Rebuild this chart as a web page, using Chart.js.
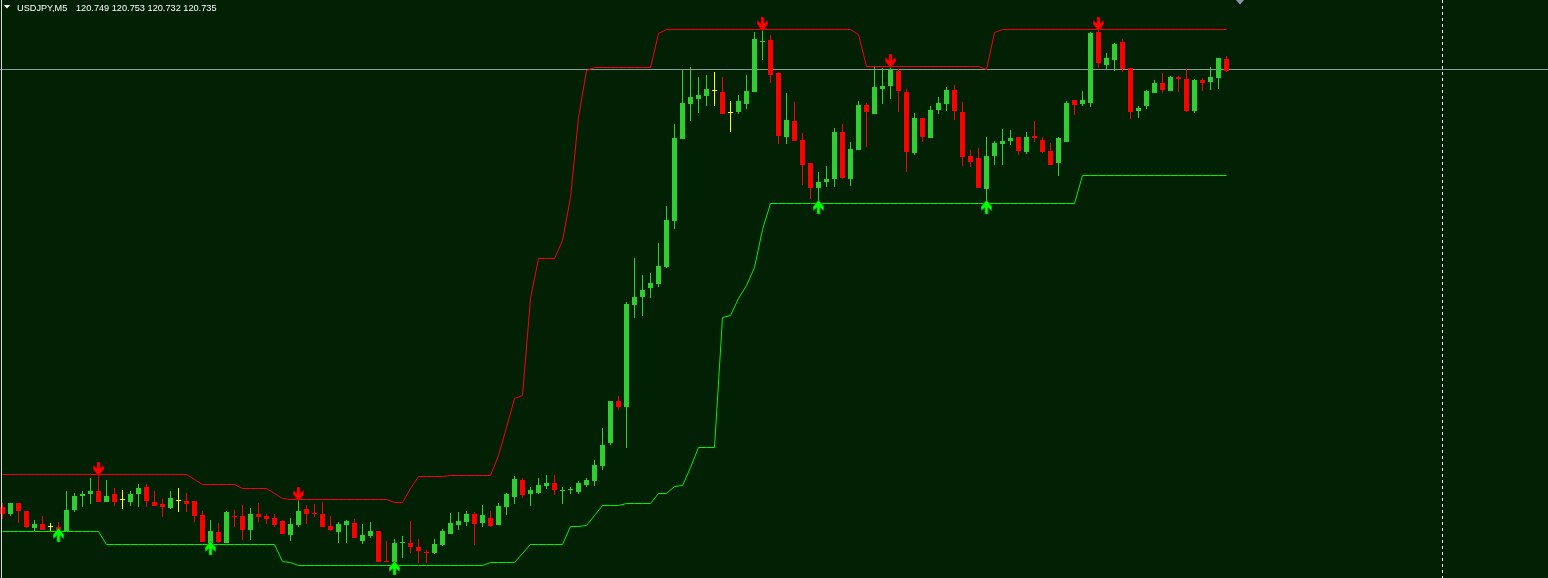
<!DOCTYPE html>
<html>
<head>
<meta charset="utf-8">
<title>USDJPY,M5</title>
<script src="https://cdn.jsdelivr.net/npm/chart.js@4.4.1/dist/chart.umd.min.js"></script>
<style>
html, body { margin: 0; padding: 0; background: #022004; overflow: hidden; }
#wrap { position: relative; width: 1548px; height: 578px; }
</style>
</head>
<body>
<div id="wrap"><canvas id="chart"></canvas></div>
<script>
// USDJPY M5 - candles with channel bands and signal arrows

const symbolTitle = 'USDJPY,M5';
const headerQuote = ['120.749', '120.753', '120.732', '120.735'];
const bidPrice = 120.735;
const shiftIndex = 180;

// OHLC per bar (bar 0 = oldest)
const opens = [
    120.297,120.290,120.301,120.293,120.276,120.280,120.277,120.277,120.273,120.294,
    120.308,120.310,120.313,120.302,120.310,120.304,120.302,120.310,120.317,120.302,
    120.300,120.296,120.303,120.303,120.303,120.289,120.261,120.272,120.261,120.288,
    120.288,120.274,120.290,120.288,120.286,120.283,120.269,120.279,120.295,120.291,
    120.290,120.278,120.272,120.279,120.281,120.263,120.268,120.273,120.243,120.242,
    120.261,120.261,120.257,120.252,120.251,120.259,120.270,120.279,120.282,120.290,
    120.281,120.286,120.279,120.297,120.307,120.324,120.310,120.311,120.318,120.321,
    120.313,120.314,120.312,120.319,120.323,120.338,120.361,120.403,120.397,120.499,
    120.507,120.516,120.520,120.537,120.583,120.665,120.700,120.705,120.708,120.713,
    120.712,120.691,120.692,120.700,120.712,120.762,120.764,120.731,120.667,120.683,
    120.664,120.641,120.616,120.622,120.625,120.672,120.625,120.654,120.699,120.690,
    120.715,120.718,120.733,120.712,120.651,120.686,120.666,120.694,120.700,120.714,
    120.692,120.648,120.646,120.615,120.648,120.660,120.663,120.667,120.652,120.668,
    120.664,120.653,120.641,120.662,120.704,120.700,120.701,120.772,120.739,120.744,
    120.762,120.736,120.693,120.698,120.711,120.721,120.713,120.727,120.725,120.693,
    120.724,120.722,120.726,120.745
];
const highs = [
    120.301,120.301,120.301,120.293,120.284,120.288,120.281,120.282,120.313,120.311,
    120.313,120.326,120.329,120.324,120.316,120.314,120.313,120.320,120.320,120.313,
    120.305,120.313,120.316,120.311,120.303,120.293,120.284,120.281,120.293,120.294,
    120.299,120.296,120.301,120.290,120.290,120.284,120.286,120.304,120.299,120.300,
    120.302,120.288,120.282,120.284,120.285,120.280,120.282,120.273,120.263,120.265,
    120.268,120.283,120.265,120.254,120.265,120.275,120.291,120.292,120.293,120.292,
    120.299,120.293,120.301,120.311,120.328,120.326,120.317,120.326,120.329,120.329,
    120.317,120.317,120.323,120.326,120.344,120.376,120.403,120.408,120.502,120.546,
    120.529,120.531,120.561,120.598,120.680,120.735,120.737,120.727,120.729,120.732,
    120.727,120.703,120.709,120.729,120.772,120.774,120.769,120.732,120.711,120.702,
    120.671,120.641,120.632,120.638,120.676,120.680,120.662,120.703,120.701,120.737,
    120.736,120.737,120.735,120.715,120.691,120.686,120.698,120.707,120.717,120.719,
    120.702,120.654,120.656,120.667,120.663,120.675,120.674,120.667,120.672,120.683,
    120.667,120.661,120.667,120.703,120.704,120.713,120.772,120.779,120.751,120.761,
    120.765,120.736,120.698,120.714,120.724,120.731,120.728,120.728,120.735,120.725,
    120.726,120.737,120.746,120.748
];
const lows = [
    120.285,120.288,120.281,120.276,120.273,120.274,120.273,120.274,120.273,120.292,
    120.297,120.300,120.302,120.302,120.298,120.295,120.298,120.297,120.297,120.298,
    120.287,120.295,120.292,120.292,120.282,120.262,120.261,120.261,120.261,120.277,
    120.264,120.264,120.282,120.280,120.277,120.270,120.263,120.277,120.280,120.287,
    120.277,120.273,120.261,120.261,120.266,120.260,120.266,120.242,120.242,120.241,
    120.246,120.251,120.241,120.241,120.250,120.258,120.270,120.274,120.278,120.259,
    120.277,120.277,120.279,120.289,120.300,120.306,120.298,120.310,120.315,120.309,
    120.300,120.310,120.310,120.317,120.318,120.334,120.359,120.394,120.356,120.486,
    120.488,120.506,120.517,120.536,120.575,120.665,120.683,120.691,120.698,120.698,
    120.690,120.672,120.690,120.695,120.712,120.744,120.721,120.660,120.660,120.663,
    120.619,120.605,120.603,120.617,120.617,120.625,120.618,120.654,120.657,120.690,
    120.700,120.705,120.692,120.632,120.649,120.662,120.666,120.690,120.693,120.684,
    120.638,120.637,120.616,120.603,120.639,120.639,120.659,120.649,120.650,120.662,
    120.651,120.639,120.628,120.662,120.689,120.698,120.697,120.736,120.735,120.733,
    120.732,120.685,120.686,120.695,120.711,120.711,120.713,120.712,120.692,120.691,
    120.713,120.714,120.715,120.732
];
const closes = [
    120.290,120.301,120.293,120.277,120.280,120.274,120.277,120.274,120.294,120.308,
    120.310,120.313,120.302,120.308,120.302,120.304,120.310,120.316,120.303,120.298,
    120.297,120.306,120.303,120.300,120.288,120.262,120.273,120.262,120.292,120.287,
    120.274,120.290,120.287,120.285,120.279,120.270,120.280,120.293,120.290,120.290,
    120.277,120.274,120.280,120.283,120.266,120.269,120.273,120.242,120.242,120.261,
    120.262,120.257,120.253,120.251,120.260,120.273,120.281,120.283,120.290,120.280,
    120.289,120.278,120.298,120.310,120.325,120.309,120.314,120.319,120.321,120.314,
    120.314,120.315,120.321,120.324,120.339,120.359,120.403,120.397,120.500,120.507,
    120.514,120.521,120.538,120.584,120.666,120.701,120.707,120.709,120.715,120.713,
    120.690,120.691,120.703,120.713,120.765,120.763,120.729,120.668,120.684,120.663,
    120.639,120.616,120.622,120.625,120.672,120.626,120.655,120.699,120.692,120.717,
    120.718,120.735,120.713,120.652,120.686,120.667,120.694,120.701,120.714,120.693,
    120.647,120.642,120.616,120.648,120.661,120.663,120.666,120.653,120.667,120.666,
    120.652,120.639,120.666,120.701,120.699,120.704,120.771,120.741,120.746,120.760,
    120.735,120.692,120.696,120.713,120.721,120.714,120.727,120.725,120.693,120.724,
    120.721,120.727,120.746,120.733
];

// channel bands
const upperBand = [
    120.330,120.330,120.330,120.330,120.330,120.330,120.330,120.330,120.330,120.330,
    120.330,120.330,120.330,120.330,120.330,120.330,120.330,120.330,120.330,120.330,
    120.330,120.330,120.330,120.330,120.325,120.320,120.320,120.320,120.320,120.320,
    120.316,120.316,120.316,120.316,120.311,120.306,120.305,120.305,120.305,120.305,
    120.305,120.305,120.305,120.305,120.305,120.305,120.305,120.305,120.305,120.302,
    120.302,120.316,120.328,120.328,120.328,120.328,120.329,120.329,120.329,120.329,
    120.329,120.329,120.349,120.377,120.406,120.409,120.506,120.546,120.546,120.546,
    120.564,120.607,120.687,120.734,120.737,120.737,120.737,120.737,120.737,120.737,
    120.737,120.737,120.771,120.775,120.775,120.775,120.775,120.775,120.775,120.775,
    120.775,120.775,120.775,120.775,120.775,120.775,120.775,120.775,120.775,120.775,
    120.775,120.775,120.775,120.775,120.775,120.775,120.775,120.770,120.738,120.738,
    120.738,120.738,120.738,120.738,120.738,120.738,120.738,120.738,120.738,120.738,
    120.738,120.738,120.738,120.735,120.772,120.775,120.775,120.775,120.775,120.775,
    120.775,120.775,120.775,120.775,120.775,120.775,120.775,120.775,120.775,120.775,
    120.775,120.775,120.775,120.775,120.775,120.775,120.775,120.775,120.775,120.775,
    120.775,120.775,120.775,120.775
];
const lowerBand = [
    120.273,120.273,120.273,120.273,120.273,120.273,120.273,120.273,120.273,120.273,
    120.273,120.273,120.273,120.260,120.260,120.260,120.260,120.260,120.260,120.260,
    120.260,120.260,120.260,120.260,120.260,120.260,120.260,120.260,120.260,120.260,
    120.260,120.260,120.260,120.260,120.260,120.243,120.242,120.239,120.239,120.239,
    120.239,120.239,120.239,120.239,120.239,120.239,120.239,120.239,120.239,120.239,
    120.239,120.239,120.239,120.239,120.239,120.239,120.239,120.239,120.239,120.239,
    120.239,120.242,120.242,120.242,120.242,120.251,120.260,120.260,120.260,120.260,
    120.260,120.278,120.278,120.279,120.289,120.299,120.299,120.299,120.301,120.301,
    120.301,120.301,120.311,120.311,120.318,120.319,120.337,120.357,120.357,120.357,
    120.487,120.489,120.506,120.519,120.537,120.575,120.601,120.601,120.601,120.601,
    120.601,120.601,120.601,120.601,120.601,120.601,120.601,120.601,120.601,120.601,
    120.601,120.601,120.601,120.601,120.601,120.601,120.601,120.601,120.601,120.601,
    120.601,120.601,120.601,120.601,120.601,120.601,120.601,120.601,120.601,120.601,
    120.601,120.601,120.601,120.601,120.601,120.629,120.629,120.629,120.629,120.629,
    120.629,120.629,120.629,120.629,120.629,120.629,120.629,120.629,120.629,120.629,
    120.629,120.629,120.629,120.629
];

// signal arrows (bar index + price where the arrow sits)
const upArrowIdx = [7, 26, 49, 102, 123];
const upArrowPrice = [120.269, 120.256, 120.236, 120.597, 120.597];
const downArrowIdx = [12, 37, 95, 111, 137];
const downArrowPrice = [120.335, 120.310, 120.780, 120.743, 120.780];

const bullColor = '#32cd32';
const bearColor = '#ff0000';
const dojiColor = '#ffff00';

function candleColor(i) {
    if (closes[i] > opens[i]) return bullColor;
    if (closes[i] < opens[i]) return bearColor;
    return dojiColor;
}

// small arrow bitmap used as point style
function makeArrow(color, edge, up) {
    const c = document.createElement('canvas');
    c.width = 11;
    c.height = 14;
    const g = c.getContext('2d');
    const pts = [[4, 14], [7, 14], [7, 7.5], [10.5, 10.5], [11, 7], [5.5, 0], [0, 7], [0.5, 10.5], [4, 7.5]];
    g.beginPath();
    pts.forEach(function(p, i) {
        const yy = up ? p[1] : 14 - p[1];
        if (i === 0) g.moveTo(p[0], yy); else g.lineTo(p[0], yy);
    });
    g.closePath();
    g.fillStyle = color;
    g.fill();
    g.strokeStyle = edge;
    g.lineWidth = 0.6;
    g.stroke();
    return c;
}

// bid line, period separator, header text etc.
const terminalChrome = {
    id: 'terminalChrome',
    beforeDatasetsDraw(chart) {
        const ctx = chart.ctx;
        const xs = chart.scales.x, ys = chart.scales.y;
        ctx.save();
        ctx.lineWidth = 1;
        const py = Math.round(ys.getPixelForValue(bidPrice)) + 0.5;
        ctx.strokeStyle = '#8c9a9c';
        ctx.beginPath();
        ctx.moveTo(0, py);
        ctx.lineTo(chart.width, py);
        ctx.stroke();
        const px = Math.floor(xs.getPixelForValue(shiftIndex)) + 0.5;
        ctx.strokeStyle = '#ffffff';
        ctx.setLineDash([3, 3]);
        ctx.beginPath();
        ctx.moveTo(px, 0);
        ctx.lineTo(px, chart.height);
        ctx.stroke();
        ctx.restore();
    },
    beforeDatasetDraw(chart, args) {
        const ds = chart.data.datasets[args.index];
        if (ds.isBand) {
            chart.ctx.save();
            chart.ctx.translate(0, 0.5);
        }
    },
    afterDatasetDraw(chart, args) {
        if (chart.data.datasets[args.index].isBand) chart.ctx.restore();
    },
    afterDraw(chart) {
        const ctx = chart.ctx;
        ctx.save();
        // left frame
        ctx.fillStyle = '#d8d8d8';
        ctx.fillRect(1, 0, 1, chart.height);
        // header
        ctx.fillStyle = '#ffffff';
        ctx.beginPath();
        ctx.moveTo(4, 5);
        ctx.lineTo(10, 5);
        ctx.lineTo(7, 8.5);
        ctx.closePath();
        ctx.fill();
        ctx.font = "9.2px 'Liberation Sans', Arial, sans-serif";
        ctx.fillText(symbolTitle, 17, 11);
        ctx.fillText(headerQuote.join(' '), 76, 11);
        // chart shift marker
        ctx.fillStyle = '#8a98a8';
        ctx.beginPath();
        ctx.moveTo(1236, 0);
        ctx.lineTo(1244, 0);
        ctx.lineTo(1240, 4.5);
        ctx.closePath();
        ctx.fill();
        ctx.restore();
    }
};

const barIdx = opens.map(function(v, i) { return i; });

new Chart(document.getElementById('chart'), {
    type: 'bar',
    data: {
        datasets: [
            {
                type: 'line',
                label: 'Upper',
                isBand: true,
                data: upperBand.map(function(v, i) { return {x: i, y: v}; }),
                borderColor: '#ff0000',
                borderWidth: 1,
                pointRadius: 0,
                tension: 0,
                order: 5
            },
            {
                type: 'line',
                label: 'Lower',
                isBand: true,
                data: lowerBand.map(function(v, i) { return {x: i, y: v}; }),
                borderColor: '#00f000',
                borderWidth: 1,
                pointRadius: 0,
                tension: 0,
                order: 5
            },
            {
                type: 'bar',
                label: 'Wicks',
                data: barIdx.map(function(i) { return {x: i, y: [lows[i], highs[i]]}; }),
                backgroundColor: function(c) { return candleColor(c.dataIndex); },
                barThickness: 1,
                grouped: false,
                inflateAmount: 0,
                borderWidth: 0,
                order: 3
            },
            {
                type: 'bar',
                label: 'Bodies',
                data: barIdx.map(function(i) { return {x: i, y: [opens[i], closes[i]]}; }),
                backgroundColor: function(c) { return candleColor(c.dataIndex); },
                barThickness: 5,
                minBarLength: 1,
                grouped: false,
                inflateAmount: 0,
                borderWidth: 0,
                order: 2
            },
            {
                type: 'line',
                label: 'Buy',
                data: upArrowIdx.map(function(v, i) { return {x: v, y: upArrowPrice[i]}; }),
                showLine: false,
                pointStyle: makeArrow('#00ff00', '#009900', true),
                pointRadius: 6,
                order: 1
            },
            {
                type: 'line',
                label: 'Sell',
                data: downArrowIdx.map(function(v, i) { return {x: v, y: downArrowPrice[i]}; }),
                showLine: false,
                pointStyle: makeArrow('#ff0000', '#a00000', false),
                pointRadius: 6,
                order: 1
            }
        ]
    },
    options: {
        responsive: true,
        maintainAspectRatio: false,
        animation: false,
        events: [],
        layout: { padding: 0, autoPadding: false },
        plugins: {
            legend: { display: false },
            tooltip: { enabled: false }
        },
        scales: {
            x: { type: 'linear', min: -0.3125, max: 193.1875, offset: false, display: false },
            y: { type: 'linear', min: 120.226, max: 120.804, beginAtZero: false, display: false }
        }
    },
    plugins: [terminalChrome]
});
</script>
</body>
</html>
